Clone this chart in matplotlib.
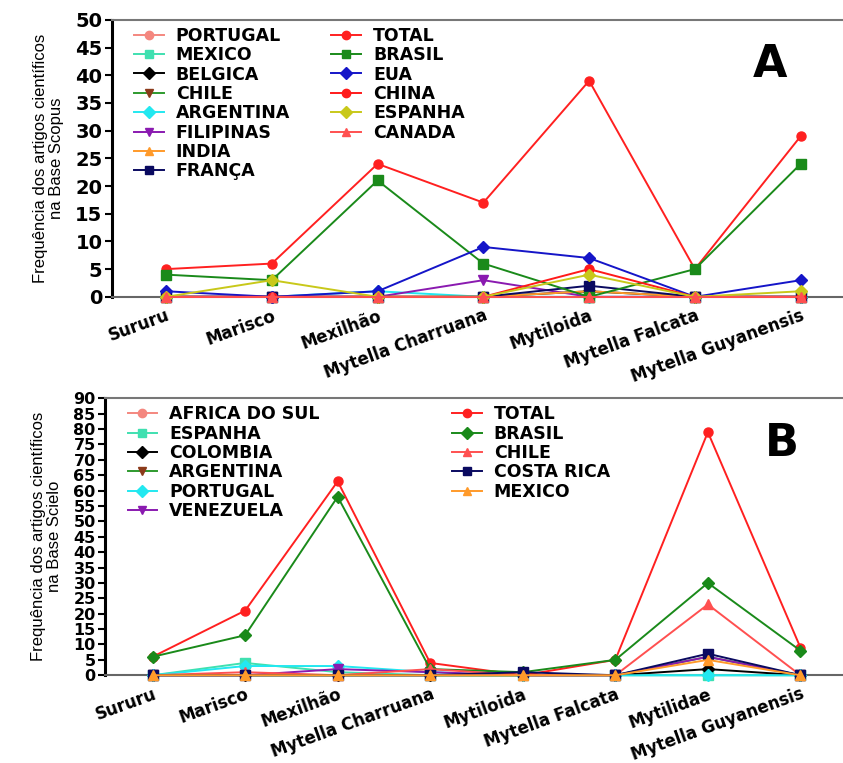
import matplotlib
matplotlib.use("Agg")
import matplotlib.pyplot as plt
import matplotlib.transforms as mtransforms
from matplotlib.lines import Line2D

plt.rcParams['font.family'] = ['DejaVu Sans']

# ---------------- Panel A (Scopus) ----------------
cats_a = ["Sururu", "Marisco", "Mexilhão", "Mytella Charruana", "Mytiloida",
          "Mytella Falcata", "Mytella Guyanensis"]
a_portugal = [0, 0, 0, 0, 0, 0, 0]
a_mexico = [0, 0, 0, 0, 0, 0, 0]
a_belgica = [0, 0, 0, 0, 1, 0, 0]
a_chile = [0, 0, 0, 0, 0, 0, 0]
a_argentina = [0, 0, 1, 0, 0, 0, 0]
a_filipinas = [0, 0, 0, 3, 0, 0, 0]
a_india = [0, 0, 0, 0, 1, 0, 0]
a_franca = [0, 0, 0, 0, 2, 0, 0]
a_total = [5, 6, 24, 17, 39, 5, 29]
a_brasil = [4, 3, 21, 6, 0, 5, 24]
a_eua = [1, 0, 1, 9, 7, 0, 3]
a_china = [0, 0, 0, 0, 5, 0, 0]
a_espanha = [0, 3, 0, 0, 4, 0, 1]
a_canada = [0, 0, 0, 0, 0, 0, 0]

# ---------------- Panel B (Scielo) ----------------
cats_b = ["Sururu", "Marisco", "Mexilhão", "Mytella Charruana", "Mytiloida",
          "Mytella Falcata", "Mytilidae", "Mytella Guyanensis"]
b_africa = [0, 0, 0, 0, 0, 0, 0, 0]
b_espanha = [0, 4, 1, 0, 0, 0, 0, 0]
b_colombia = [0, 0, 0, 0, 0, 0, 2, 0]
b_argentina = [0, 0, 0, 0, 0, 0, 6, 0]
b_portugal = [0, 3, 3, 1, 0, 0, 0, 0]
b_venezuela = [0, 0, 2, 1, 0, 0, 6, 0]
b_total = [6, 21, 63, 4, 0, 5, 79, 9]
b_brasil = [6, 13, 58, 2, 1, 5, 30, 8]
b_chile = [0, 1, 0, 2, 0, 0, 23, 0]
b_costarica = [0, 0, 0, 0, 1, 0, 7, 0]
b_mexico = [0, 0, 0, 0, 0, 0, 5, 0]

series_a_col1 = [
    ("PORTUGAL", a_portugal, "#f4877f", "o", "#f4877f"),
    ("MEXICO", a_mexico, "#3fe0b0", "s", "#3fe0b0"),
    ("BELGICA", a_belgica, "#000000", "D", "#000000"),
    ("CHILE", a_chile, "#2e9a2e", "v", "#8b3a1a"),
    ("ARGENTINA", a_argentina, "#22e8f0", "D", "#22e8f0"),
    ("FILIPINAS", a_filipinas, "#8a1ab0", "v", "#8a1ab0"),
    ("INDIA", a_india, "#ff9a2a", "^", "#ff9a2a"),
    ("FRANÇA", a_franca, "#0a0a60", "s", "#0a0a60"),
]
series_a_col2 = [
    ("TOTAL", a_total, "#ff2020", "o", "#ff2020"),
    ("BRASIL", a_brasil, "#1a8a1a", "s", "#1a8a1a"),
    ("EUA", a_eua, "#1515c8", "D", "#1515c8"),
    ("CHINA", a_china, "#ff1a1a", "o", "#ff1a1a"),
    ("ESPANHA", a_espanha, "#c8c81a", "D", "#c8c81a"),
    ("CANADA", a_canada, "#ff5050", "^", "#ff5050"),
]
series_b_col1 = [
    ("AFRICA DO SUL", b_africa, "#f4877f", "o", "#f4877f"),
    ("ESPANHA", b_espanha, "#3fe0b0", "s", "#3fe0b0"),
    ("COLOMBIA", b_colombia, "#000000", "D", "#000000"),
    ("ARGENTINA", b_argentina, "#2e9a2e", "v", "#8b3a1a"),
    ("PORTUGAL", b_portugal, "#22e8f0", "D", "#22e8f0"),
    ("VENEZUELA", b_venezuela, "#8a1ab0", "v", "#8a1ab0"),
]
series_b_col2 = [
    ("TOTAL", b_total, "#ff2020", "o", "#ff2020"),
    ("BRASIL", b_brasil, "#1a8a1a", "D", "#1a8a1a"),
    ("CHILE", b_chile, "#ff5050", "^", "#ff5050"),
    ("COSTA RICA", b_costarica, "#0a0a60", "s", "#0a0a60"),
    ("MEXICO", b_mexico, "#ff9a2a", "^", "#ff9a2a"),
]

fig = plt.figure(figsize=(8.43, 7.63), dpi=100)
ax1 = fig.add_axes([0.133, 0.611, 0.867, 0.363])
ax2 = fig.add_axes([0.125, 0.115, 0.875, 0.363])

ylabel_font = ['Liberation Sans', 'DejaVu Sans']


def draw(ax, cats, col1, col2, ymax, xright, letter, letter_pos, ylabel,
         ysize, leg1_anchor, leg2_anchor):
    x = list(range(len(cats)))
    h1, h2 = [], []
    for group, hl in ((col1, h1), (col2, h2)):
        for name, vals, col, mk, mfc in group:
            ax.plot(x, vals, color=col, lw=1.4, marker=mk, ms=6.5,
                    mfc=mfc, mec=mfc, clip_on=False, zorder=3)
            hl.append(Line2D([], [], color=col, lw=1.4, marker=mk, ms=6,
                             mfc=mfc, mec=mfc, label=name))
    ax.set_xlim(-0.51, xright)
    ax.set_ylim(0, ymax)
    ax.set_yticks(range(0, ymax + 1, 5))
    ax.set_xticks(x)
    ax.set_xticklabels(cats, rotation=20, ha='right', rotation_mode='anchor',
                       fontsize=12, fontweight='bold')
    offset = mtransforms.ScaledTranslation(20 / 100, 0, fig.dpi_scale_trans)
    for lab in ax.get_xticklabels():
        lab.set_transform(lab.get_transform() + offset)
    for lab in ax.get_yticklabels():
        lab.set_fontsize(ysize)
        lab.set_fontweight('bold')
    ax.tick_params(axis='x', length=0, pad=7)
    ax.tick_params(axis='y', length=5, width=1.5, direction='out', pad=2)
    ax.spines['left'].set_linewidth(2.2)
    ax.spines['left'].set_color('black')
    ax.spines['bottom'].set_color('#666666')
    ax.spines['bottom'].set_linewidth(1.5)
    ax.spines['top'].set_color('#777777')
    ax.spines['top'].set_linewidth(1.5)
    ax.spines['right'].set_visible(False)
    ax.set_ylabel(ylabel, fontsize=12, family=ylabel_font, labelpad=8,
                  linespacing=1.1)
    legkw = dict(loc='upper left', frameon=False,
                 prop={'weight': 'bold', 'size': 12.5},
                 handlelength=1.7, labelspacing=0.08, handletextpad=0.7,
                 borderaxespad=0, borderpad=0)
    lg1 = ax.legend(handles=h1, bbox_to_anchor=leg1_anchor, **legkw)
    ax.add_artist(lg1)
    ax.legend(handles=h2, bbox_to_anchor=leg2_anchor, **legkw)
    ax.text(letter_pos[0], letter_pos[1], letter, transform=ax.transAxes,
            fontsize=32, fontweight='bold', ha='center', va='center')


draw(ax1, cats_a, series_a_col1, series_a_col2, 50, 6.4, "A", (0.90, 0.838),
     "Frequência dos artigos científicos\nna Base Scopus", 14,
     (0.03, 0.975), (0.30, 0.975))
draw(ax2, cats_b, series_b_col1, series_b_col2, 90, 7.46, "B", (0.917, 0.838),
     "Frequência dos artigos científicos\nna Base Scielo", 11.5,
     (0.03, 0.975), (0.47, 0.975))

fig.savefig("out.png", dpi=100)
